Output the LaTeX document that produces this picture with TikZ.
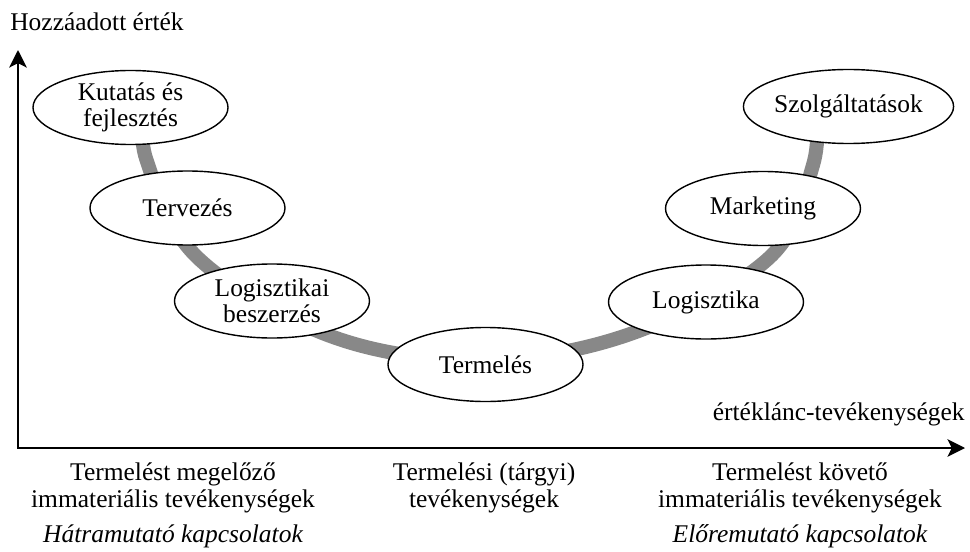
\documentclass[tikz,border=0pt]{standalone}
\usepackage{fontspec}
\setmainfont{Liberation Serif}
\usepackage{tikz}
\usetikzlibrary{arrows.meta}
\usetikzlibrary{shapes.geometric}

\definecolor{bandgray}{RGB}{136,136,136}

\begin{document}
\begin{tikzpicture}[
		stage/.style={ellipse, draw=black, line width=0.8pt, fill=white,
			minimum width=3.9cm, minimum height=1.48cm, inner sep=0pt,
			align=center, font=\fontsize{14.5}{15}\selectfont},
		lbl/.style={align=center, inner sep=0pt, font=\fontsize{14.5}{15}\selectfont},
		lblit/.style={lbl, font=\fontsize{14.5}{15}\selectfont\itshape}]
	\useasboundingbox (-0.36,-2.06) rectangle (19.04,8.96);

	% axes
	\coordinate (ytip) at (0,7.96);
	\coordinate (xtip) at (18.94,0);
	\begin{scope}[>={Stealth[black,length=10pt,width=10pt,inset=2.5pt]}]
		\draw[<->, line width=1.2pt] (ytip) |- (xtip);
	\end{scope}

	% the U curve behind the stages
	\path[draw=bandgray, line width=8pt] plot [smooth,tension=0.6] coordinates
		{(2.54,6.86) (2.57,5.76) (3.60,3.80) (6.30,2.22) (9.30,1.76)
		 (12.30,2.30) (15.03,3.81) (15.90,5.66) (15.96,6.86)};

	\node[stage] (kutatas) at (2.25,6.81) {Kutatás és\\fejlesztés};
	\node[stage] (tervezes) at (3.39,4.80) {Tervezés};
	\node[stage] (beszerzes) at (5.08,2.94) {Logisztikai\\beszerzés};
	\node[stage] (termeles) at (9.35,1.67) {Termelés};
	\node[stage] (logisztika) at (13.76,2.92) {Logisztika};
	\node[stage] (marketing) at (14.90,4.79) {Marketing};
	\node[stage] (szolg) at (16.61,6.83) {Szolgáltatások};

	\node[lbl, anchor=base west] (yaxis) at (-0.16,8.34) {Hozzáadott érték};
	\node[lbl, anchor=base east] (xaxis) at (18.94,0.56) {értéklánc-tevékenységek};

	\node[lbl, anchor=base] (pre) at (3.10,-1.18) {Termelést megelőző\\immateriális tevékenységek};
	\node[lbl, anchor=base] (prod) at (9.32,-1.18) {Termelési (tárgyi)\\tevékenységek};
	\node[lbl, anchor=base] (post) at (15.64,-1.18) {Termelést követő\\immateriális tevékenységek};
	\node[lblit, anchor=base] (back) at (3.10,-1.88) {Hátramutató kapcsolatok};
	\node[lblit, anchor=base] (fwd) at (15.64,-1.88) {Előremutató kapcsolatok};
\end{tikzpicture}
\end{document}
